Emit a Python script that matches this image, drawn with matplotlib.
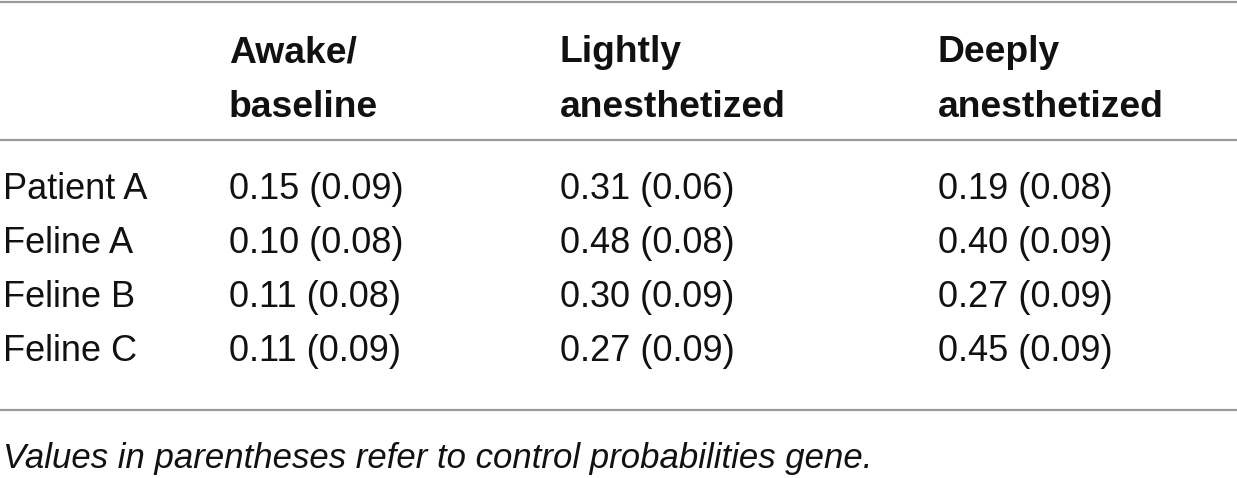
import matplotlib
matplotlib.use('Agg')
import matplotlib.pyplot as plt

# table content
columns = ['Awake/\nbaseline', 'Lightly\nanesthetized', 'Deeply\nanesthetized']
subjects = ['Patient A', 'Feline A', 'Feline B', 'Feline C']
means = [[0.15, 0.31, 0.19],
         [0.10, 0.48, 0.40],
         [0.11, 0.30, 0.27],
         [0.11, 0.27, 0.45]]
controls = [[0.09, 0.06, 0.08],
            [0.08, 0.08, 0.09],
            [0.08, 0.09, 0.09],
            [0.09, 0.09, 0.09]]
footnote = 'Values in parentheses refer to control probabilities gene.'

W, H = 1237, 478
fig = plt.figure(figsize=(W / 100, H / 100), dpi=100)
ax = fig.add_axes([0, 0, 1, 1])
ax.set_xlim(0, W)
ax.set_ylim(H, 0)
ax.axis('off')

font = ['Liberation Sans', 'DejaVu Sans']
size = 26
ink = '#111111'
rule = '#9a9a9a'

col_x = [229, 560, 938]
label_x = 3

# horizontal rules
for y in [1.5, 140, 410]:
    ax.plot([0, W], [y, y], color=rule, lw=1.6, solid_capstyle='butt')

# header
for x, name in zip(col_x, columns):
    for k, line in enumerate(name.split('\n')):
        ax.text(x, 62 + k * 55, line, fontsize=26.8, fontweight='bold',
                family=font, color=ink, va='baseline', ha='left')

# body rows
row_y = [199, 253, 307, 361]
for y, subj, m_row, c_row in zip(row_y, subjects, means, controls):
    ax.text(label_x, y, subj, fontsize=size, family=font, color=ink,
            va='baseline', ha='left')
    for x, m, c in zip(col_x, m_row, c_row):
        ax.text(x, y, f'{m:.2f} ({c:.2f})', fontsize=size, family=font,
                color=ink, va='baseline', ha='left')

# footnote
ax.text(label_x, 468, footnote, fontsize=25, style='italic',
        family=font, color=ink, va='baseline', ha='left')

fig.savefig('out.png', dpi=100)
